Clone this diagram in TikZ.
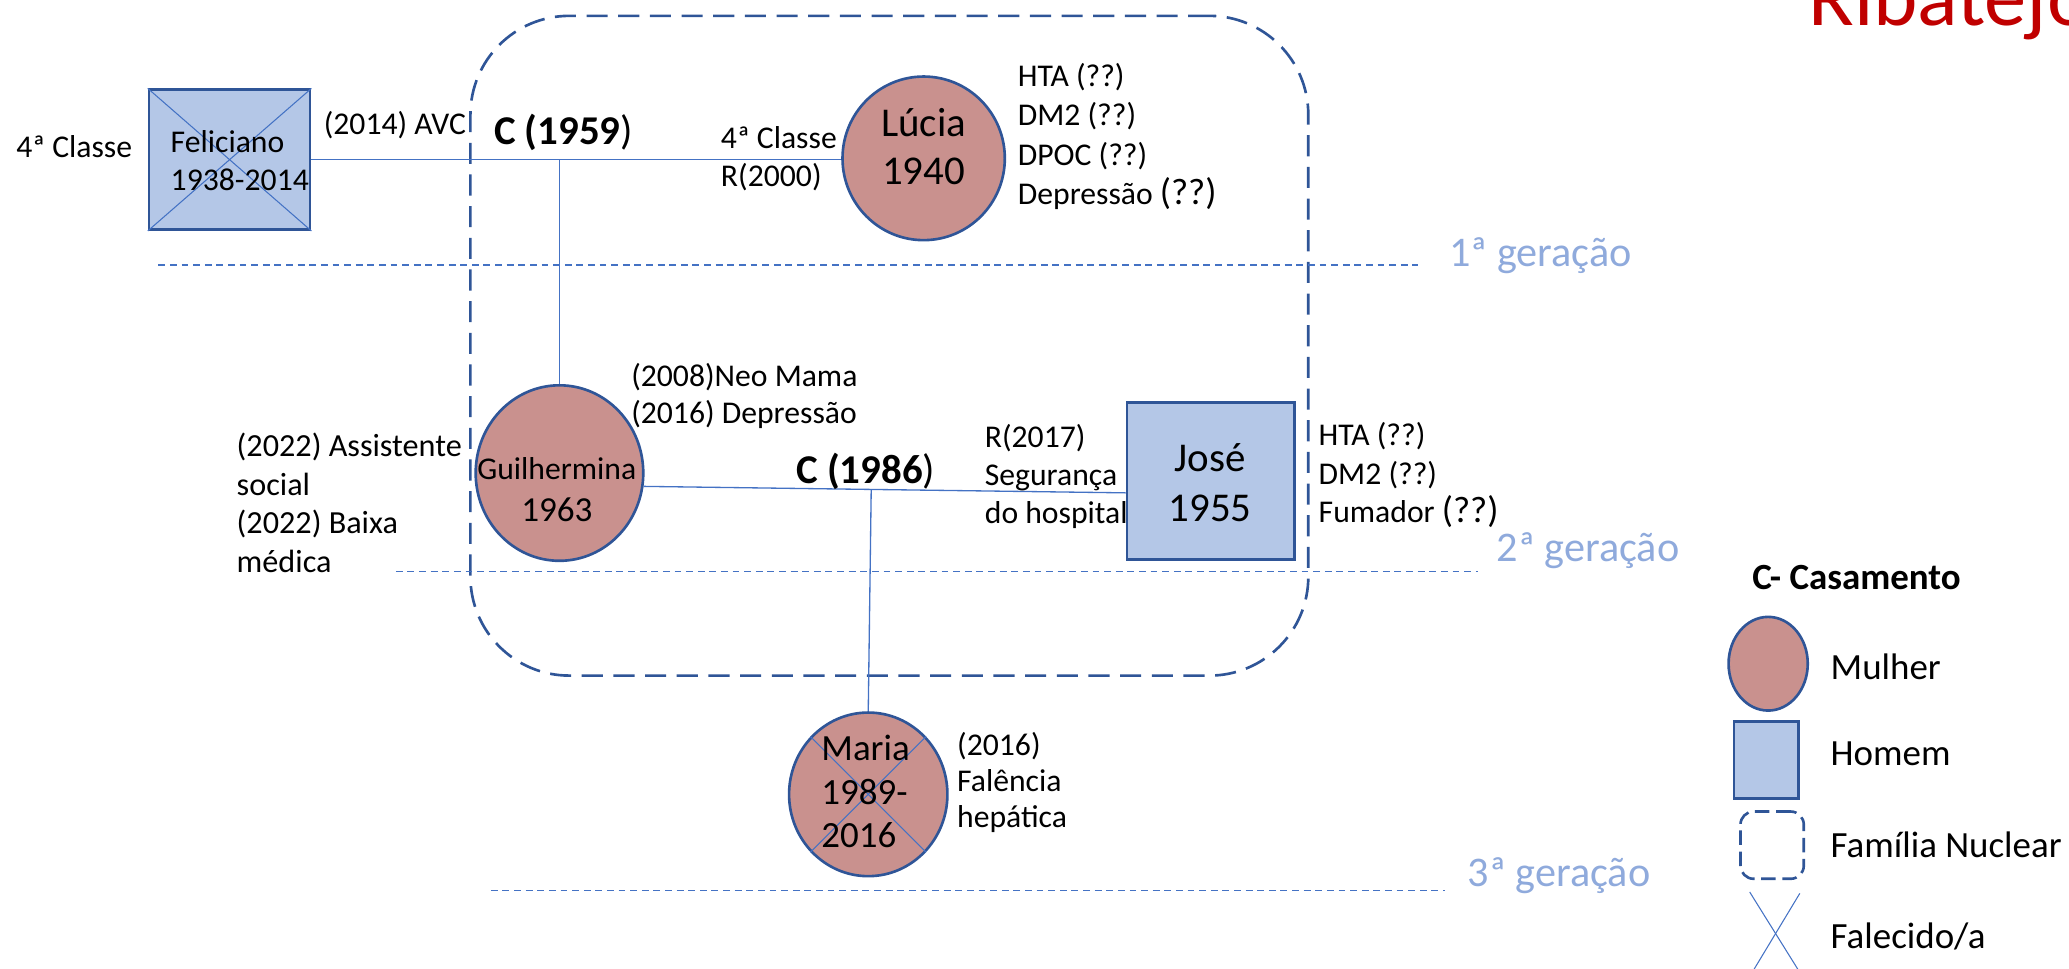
\documentclass[tikz,border=0pt]{standalone}
\usepackage{fontspec}
\setmainfont{Carlito}
\usetikzlibrary{shapes.geometric,calc}
\definecolor{wfill}{RGB}{201,145,142}
\definecolor{mfill}{RGB}{180,199,231}
\definecolor{bdr}{RGB}{47,85,151}
\definecolor{ln}{RGB}{68,114,196}
\definecolor{genc}{RGB}{143,170,220}
\definecolor{ribred}{RGB}{192,0,0}
\begin{document}
\begin{tikzpicture}[x=0.5pt,y=-0.5pt,
  woman/.style={ellipse, draw=bdr, line width=1pt, fill=wfill, inner sep=0pt},
  man/.style={rectangle, draw=bdr, line width=1pt, fill=mfill, inner sep=0pt},
  rel/.style={draw=ln, line width=0.5pt},
  crossln/.style={draw=ln, line width=0.4pt},
  gen/.style={draw=ln, line width=0.6pt, dash pattern=on 2.6pt off 1.8pt},
  genlbl/.style={text=genc, font=\fontsize{16}{19}\selectfont, anchor=west, inner sep=0pt},
  txt/.style={font=\fontsize{12}{15}\selectfont, anchor=west, align=left, inner sep=0pt},
  nm/.style={inner sep=0pt},
  fambox/.style={rectangle, draw=bdr, line width=1pt, dash pattern=on 8pt off 4pt, rounded corners=37.5pt, inner sep=0pt},
  legtxt/.style={font=\fontsize{14}{16}\selectfont, anchor=west, inner sep=0pt}
]
\useasboundingbox (0,0) rectangle (1568,734);
\clip (0,0) rectangle (1568,734);

% title fragment
\node[anchor=base west, inner sep=0pt, text=ribred, font=\fontsize{32}{36}\selectfont] (rib) at (1370,19) {Ribatejo};

% nuclear family box
\node[fambox, minimum width=317.5pt, minimum height=250pt] (fam) at (674,262) {};

% generation lines
\coordinate (g1a) at (120,201); \coordinate (g1b) at (1075,201);
\coordinate (g2a) at (300,433); \coordinate (g2b) at (1120,433);
\coordinate (g3a) at (372,675); \coordinate (g3b) at (1095,675);
\draw[gen] (g1a) -- (g1b);
\draw[gen] (g2a) -- (g2b);
\draw[gen] (g3a) -- (g3b);
\node[genlbl] (gen1) at (1098,194) {1ª geração};
\node[genlbl] (gen2) at (1134,417) {2ª geração};
\node[genlbl] (gen3) at (1112,664) {3ª geração};

% persons
\node[man, minimum width=61pt, minimum height=53pt] (fel) at (174,121) {};
\node[woman, minimum width=61.5pt, minimum height=62pt] (luc) at (700,120) {};
\node[woman, minimum width=63.5pt, minimum height=66.5pt] (gui) at (424,358.5) {};
\node[man, minimum width=63.5pt, minimum height=59.5pt] (jos) at (917.5,364.5) {};
\node[woman, minimum width=60pt, minimum height=62pt] (mar) at (658,602) {};

% relations
\coordinate (m1) at (gui.north |- fel.east);
\draw[rel] (fel.east) -- (fel.east -| luc.west);
\draw[rel] (m1) -- (gui.north);
\coordinate (g1) at (gui.-9);
\coordinate (j1) at ([yshift=-4.5pt]jos.west);
\draw[rel] (g1) -- (j1);
\coordinate (m2) at ($(g1)!(mar.north)!(j1)$);
\draw[rel] (m2) -- (mar.north);

% deceased crosses
\draw[crossln] (fel.north west) -- (fel.south east);
\draw[crossln] (fel.north east) -- (fel.south west);
\draw[crossln] (mar.135) -- (mar.-45);
\draw[crossln] (mar.45) -- (mar.-135);

% names
\node[nm, anchor=west, align=left, font=\fontsize{12}{14.5}\selectfont] (felT) at (129,121.5) {Feliciano\\1938-2014};
\node[nm, align=center, font=\fontsize{15.5}{18}\selectfont] (lucT) at (700,111) {Lúcia\\1940};
\node[nm, align=center, font=\fontsize{12}{16}\selectfont] (guiT) at (422,371) {Guilhermina\\{\fontsize{13.3}{16}\selectfont 1963}};
\node[nm, align=center, font=\fontsize{15.5}{19}\selectfont] (josT) at (917,366) {José\\1955};
\node[nm, align=left, font=\fontsize{14}{16.5}\selectfont] (marT) at (656,600) {Maria\\1989-\\2016};

% annotations
\node[txt] (felEdu) at (12,111) {4ª Classe};
\node[txt] (felAvc) at (245,95) {(2014) AVC};
\node[txt, font=\fontsize{15.5}{18}\selectfont] (c59) at (374,100) {\textbf{C (1959})};
\node[txt, font=\fontsize{12}{14.5}\selectfont] (lucL) at (546,120.5) {4ª Classe\\R(2000)};
\node[txt, font=\fontsize{12}{15}\selectfont] (lucR) at (771,103.5) {HTA (??)\\DM2 (??)\\DPOC (??)\\Depressão {\fontsize{14}{15}\selectfont(??)}};
\node[txt, font=\fontsize{12}{14.25}\selectfont] (guiR) at (478,300) {(2008)Neo Mama\\(2016) Depressão};
\node[txt, font=\fontsize{12.2}{14.6}\selectfont] (guiL) at (179,381) {(2022) Assistente\\social\\(2022) Baixa\\médica};
\node[txt, font=\fontsize{15.5}{18}\selectfont] (c86) at (603,357) {\textbf{C (1986})};
\node[txt, font=\fontsize{12}{14.5}\selectfont] (josL) at (746,361) {R(2017)\\Segurança\\do hospital};
\node[txt, font=\fontsize{12}{14.75}\selectfont] (josR) at (999,360) {HTA (??)\\DM2 (??)\\Fumador {\fontsize{14}{15}\selectfont(??)}};
\node[txt, font=\fontsize{12}{13.75}\selectfont] (marR) at (725,593) {(2016)\\Falência\\hepática};

% legend
\node[nm, font=\bfseries\fontsize{14}{16}\selectfont] (legT) at (1407,438) {C- Casamento};
\node[woman, minimum width=30pt, minimum height=35.5pt] (legW) at (1340,503) {};
\node[man, minimum width=24.5pt, minimum height=29pt] (legM) at (1338.5,576) {};
\node[rectangle, draw=bdr, line width=1pt, dash pattern=on 5.5pt off 2.5pt, rounded corners=5pt, minimum width=24pt, minimum height=25.5pt, inner sep=0pt] (legF) at (1343,640.5) {};
\coordinate (lx1) at (1326,676); \coordinate (lx2) at (1369,745);
\coordinate (lx3) at (1364,677); \coordinate (lx4) at (1323,745);
\draw[crossln] (lx1) -- (lx2);
\draw[crossln] (lx3) -- (lx4);
\node[legtxt] (legWt) at (1387,505) {Mulher};
\node[legtxt] (legMt) at (1387,571) {Homem};
\node[legtxt] (legFt) at (1387,640) {Família Nuclear};
\node[legtxt] (legDt) at (1387,710) {Falecido/a};
\end{tikzpicture}
\end{document}
